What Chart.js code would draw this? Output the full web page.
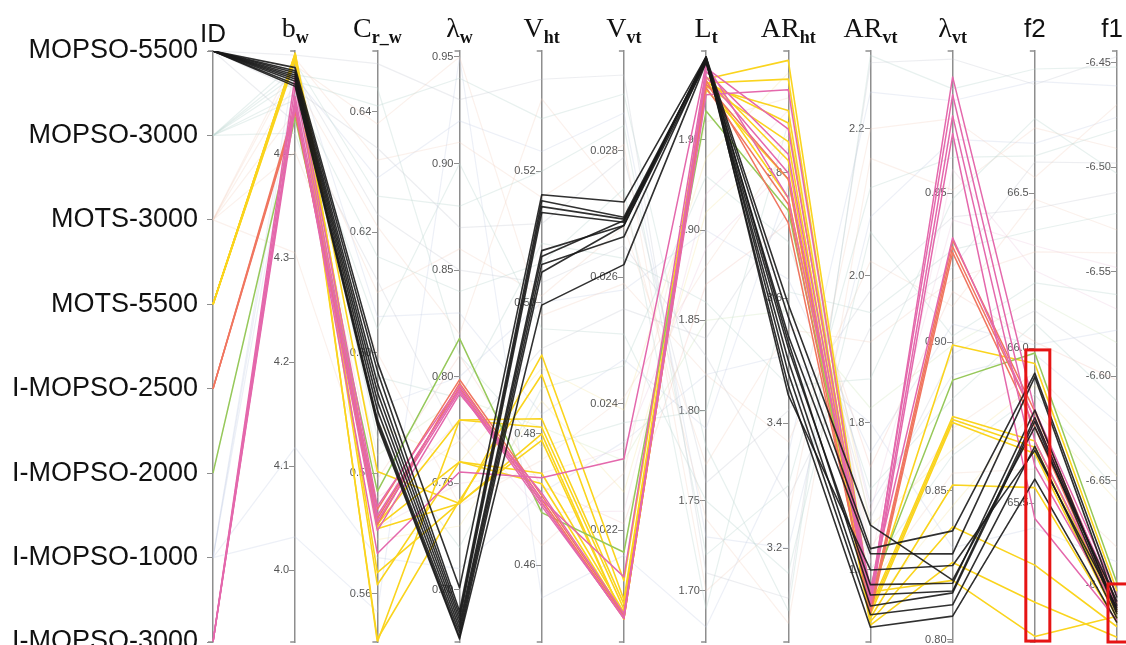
<!DOCTYPE html>
<html>
<head>
<meta charset="utf-8">
<script src="https://cdn.jsdelivr.net/npm/chart.js@4.4.1/dist/chart.umd.min.js"></script>
<style>
  html, body { margin: 0; padding: 0; background: #fff; }
  canvas { display: block; }
</style>
</head>
<body>
<canvas id="pcChart" width="1126" height="645"></canvas>
<script>
// axis order, left to right
const dimKeys = ['ID', 'bw', 'Crw', 'lw', 'Vht', 'Vvt', 'Lt', 'ARht', 'ARvt', 'lvt', 'f2', 'f1'];
// titles: main part + subscript
const titleMain = ['ID', 'b', 'C', 'λ', 'V', 'V', 'L', 'AR', 'AR', 'λ', 'f2', 'f1'];
const titleSub  = ['',   'w', 'r_w', 'w', 'ht', 'vt', 't', 'ht', 'vt', 'vt', '', ''];

const idLabels = ['MOPSO-5500', 'MOPSO-3000', 'MOTS-3000', 'MOTS-5500',
  'I-MOPSO-2500', 'I-MOPSO-2000', 'I-MOPSO-1000', 'I-MOPSO-3000'];

// axis extents (bottom, top)
const axisMin = [0, 3.931, 0.552, 0.6756, 0.4483, 0.02023, 1.6717, 3.05, 1.502, 0.7993, 65.052, -6.7273];
const axisMax = [7, 4.499, 0.6501, 0.9528, 0.5383, 0.02958, 1.9993, 3.995, 2.306, 0.9977, 66.958, -6.4443];

// tick labels
const bwTicks   = [4.0, 4.1, 4.2, 4.3, 4.4];
const crwTicks  = [0.56, 0.58, 0.60, 0.62, 0.64];
const lwTicks   = [0.70, 0.75, 0.80, 0.85, 0.90, 0.95];
const vhtTicks  = [0.46, 0.48, 0.50, 0.52];
const vvtTicks  = [0.022, 0.024, 0.026, 0.028];
const ltTicks   = [1.70, 1.75, 1.80, 1.85, 1.90, 1.95];
const arhtTicks = [3.2, 3.4, 3.6, 3.8];
const arvtTicks = [1.6, 1.8, 2.0, 2.2];
const lvtTicks  = [0.80, 0.85, 0.90, 0.95];
const f2Ticks   = [65.5, 66.0, 66.5];
const f1Ticks   = [-6.70, -6.65, -6.60, -6.55, -6.50, -6.45];
const tickDigits = [0, 1, 2, 2, 2, 3, 2, 1, 1, 2, 1, 2];

// brushed ranges (red boxes)
const f2Brush = [65.055, 65.994];
const f1Brush = [-6.7273, -6.6995];

// runs: bw, Crw, λw, Vht, Vvt, Lt, ARht, ARvt, λvt, f2, f1
const mopso5500Runs = [
  [4.483, 0.5985, 0.701, 0.5164, 0.02719, 1.996, 3.59, 1.661, 0.8201, 65.745, -6.708],
  [4.480, 0.5970, 0.690, 0.5155, 0.02695, 1.995, 3.57, 1.629, 0.8366, 65.919, -6.706],
  [4.478, 0.5950, 0.688, 0.5146, 0.02692, 1.994, 3.54, 1.622, 0.8289, 65.907, -6.710],
  [4.476, 0.5935, 0.686, 0.5137, 0.02687, 1.996, 3.53, 1.566, 0.8164, 65.776, -6.712],
  [4.474, 0.5920, 0.684, 0.5079, 0.02682, 1.993, 3.50, 1.551, 0.8158, 65.764, -6.714],
  [4.472, 0.5905, 0.682, 0.5070, 0.02690, 1.995, 3.48, 1.539, 0.8118, 65.683, -6.716],
  [4.470, 0.5890, 0.680, 0.5058, 0.02664, 1.994, 3.46, 1.522, 0.8080, 65.577, -6.718],
  [4.467, 0.5885, 0.678, 0.5046, 0.02682, 1.996, 3.445, 1.600, 0.8250, 65.670, -6.711],
  [4.465, 0.5880, 0.677, 0.4996, 0.02620, 1.993, 3.52, 1.580, 0.8190, 65.800, -6.713]
];
const mots5500Runs = [
  [4.497, 0.5803, 0.7406, 0.4920, 0.02120, 1.9838, 3.98, 1.560, 0.899, 65.95, -6.703],
  [4.496, 0.5715, 0.7797, 0.4823, 0.02083, 1.9816, 3.95, 1.550, 0.875, 65.70, -6.712],
  [4.495, 0.5712, 0.7601, 0.4724, 0.02065, 1.9795, 3.90, 1.545, 0.874, 65.68, -6.714],
  [4.494, 0.5708, 0.7406, 0.4800, 0.02059, 1.9820, 3.88, 1.540, 0.873, 65.66, -6.716],
  [4.493, 0.5635, 0.7410, 0.4790, 0.02060, 1.9800, 3.85, 1.535, 0.852, 65.55, -6.718],
  [4.492, 0.5615, 0.7601, 0.4740, 0.02070, 1.9850, 3.82, 1.530, 0.838, 65.30, -6.720],
  [4.496, 0.5520, 0.7797, 0.4810, 0.02075, 1.9780, 3.79, 1.525, 0.826, 65.18, -6.725],
  [4.490, 0.5525, 0.7420, 0.4890, 0.02090, 1.9830, 3.76, 1.570, 0.820, 65.07, -6.715]
];
const impso2500Runs = [
  [4.443, 0.5740, 0.7987, 0.4706, 0.02065, 1.981, 3.79, 1.550, 0.9342, 65.795, -6.711],
  [4.440, 0.5725, 0.7950, 0.4695, 0.02060, 1.979, 3.75, 1.540, 0.9300, 65.745, -6.713],
  [4.446, 0.5715, 0.7970, 0.4700, 0.02062, 1.983, 3.72, 1.545, 0.9320, 65.770, -6.709]
];
const impso2000Runs = [
  [4.435, 0.5770, 0.8180, 0.4680, 0.02165, 1.966, 3.74, 1.570, 0.8872, 65.984, -6.699]
];
const impso3000Runs = [
  [4.475, 0.5745, 0.7960, 0.4700, 0.02126, 1.990, 3.87, 1.560, 0.989, 65.80, -6.705],
  [4.465, 0.5730, 0.7942, 0.4695, 0.02060, 1.988, 3.83, 1.555, 0.976, 65.62, -6.712],
  [4.455, 0.5720, 0.7933, 0.4690, 0.02062, 1.985, 3.80, 1.550, 0.970, 65.45, -6.717],
  [4.450, 0.5667, 0.7553, 0.4733, 0.02313, 1.992, 3.76, 1.575, 0.935, 65.77, -6.708],
  [4.445, 0.5705, 0.7920, 0.4710, 0.02068, 1.975, 3.933, 1.565, 0.983, 65.70, -6.710]
];
// runs outside the brushed ranges (faint)
const otherRuns = [
  ['MOPSO-5500', 4.495, 0.648, 0.93, 0.534, 0.0292, 1.71, 3.12, 2.29, 0.995, 66.85, -6.447],
  ['MOPSO-5500', 4.462, 0.634, 0.87, 0.512, 0.0279, 1.76, 3.42, 1.98, 0.942, 66.45, -6.512],
  ['MOPSO-5500', 4.430, 0.612, 0.77, 0.493, 0.0255, 1.84, 3.74, 1.67, 0.896, 66.12, -6.596],
  ['MOPSO-5500', 4.479, 0.623, 0.85, 0.503, 0.0265, 1.83, 3.28, 1.93, 0.925, 66.60, -6.498],
  ['MOPSO-3000', 4.470, 0.641, 0.94, 0.528, 0.0289, 1.78, 3.10, 2.30, 0.985, 66.90, -6.452],
  ['MOPSO-3000', 4.488, 0.626, 0.88, 0.520, 0.0284, 1.72, 3.30, 2.12, 0.962, 66.62, -6.482],
  ['MOPSO-3000', 4.458, 0.616, 0.84, 0.506, 0.0274, 1.69, 3.61, 1.95, 0.931, 66.38, -6.522],
  ['MOPSO-3000', 4.452, 0.604, 0.90, 0.496, 0.0251, 1.75, 3.16, 2.06, 0.902, 66.21, -6.561],
  ['MOPSO-3000', 4.420, 0.596, 0.79, 0.509, 0.0263, 1.86, 3.46, 1.86, 0.948, 66.74, -6.503],
  ['MOPSO-3000', 4.481, 0.586, 0.72, 0.487, 0.0246, 1.93, 3.69, 1.71, 0.881, 66.08, -6.612],
  ['MOPSO-3000', 4.476, 0.644, 0.81, 0.478, 0.0237, 1.80, 3.88, 1.60, 0.862, 65.85, -6.655],
  ['MOTS-3000', 4.492, 0.632, 0.91, 0.516, 0.0281, 1.70, 3.25, 2.20, 0.975, 66.55, -6.470],
  ['MOTS-3000', 4.441, 0.610, 0.86, 0.501, 0.0268, 1.77, 3.55, 1.91, 0.921, 66.31, -6.541],
  ['MOTS-3000', 4.402, 0.600, 0.74, 0.476, 0.0241, 1.88, 3.84, 1.63, 0.871, 65.92, -6.638],
  ['MOTS-3000', 4.468, 0.621, 0.82, 0.531, 0.0272, 1.74, 3.08, 2.16, 0.951, 66.71, -6.491],
  ['MOTS-3000', 4.305, 0.576, 0.77, 0.463, 0.0229, 1.96, 3.92, 1.58, 0.856, 65.61, -6.682],
  ['MOTS-3000', 4.485, 0.638, 0.95, 0.498, 0.0259, 1.82, 3.37, 2.02, 0.912, 66.48, -6.530],
  ['I-MOPSO-1000', 4.032, 0.557, 0.95, 0.455, 0.0216, 1.68, 3.35, 2.25, 0.981, 66.86, -6.461],
  ['I-MOPSO-1000', 4.118, 0.566, 0.71, 0.471, 0.0234, 1.82, 3.51, 1.80, 0.831, 65.42, -6.689],
  ['I-MOPSO-1000', 4.450, 0.591, 0.80, 0.500, 0.0258, 1.90, 3.63, 1.76, 0.906, 66.01, -6.578],
  ['I-MOPSO-1000', 4.474, 0.629, 0.92, 0.523, 0.0286, 1.73, 3.20, 2.08, 0.968, 66.66, -6.476],
  ['I-MOPSO-1000', 4.490, 0.606, 0.83, 0.483, 0.0247, 1.79, 3.78, 1.69, 0.889, 65.98, -6.622],
  ['MOTS-5500', 4.497, 0.588, 0.76, 0.490, 0.0239, 1.94, 3.96, 1.55, 0.845, 65.80, -6.660],
  ['MOTS-5500', 4.493, 0.569, 0.73, 0.485, 0.0226, 1.91, 3.86, 1.66, 0.864, 65.88, -6.648],
  ['I-MOPSO-2500', 4.448, 0.579, 0.81, 0.472, 0.0221, 1.87, 3.72, 1.74, 0.917, 66.02, -6.602],
  ['I-MOPSO-2000', 4.438, 0.583, 0.79, 0.481, 0.0231, 1.85, 3.58, 1.82, 0.899, 66.16, -6.584],
  ['I-MOPSO-3000', 4.460, 0.574, 0.78, 0.468, 0.0223, 1.92, 3.90, 1.61, 0.958, 66.25, -6.568],
  ['I-MOPSO-3000', 4.452, 0.571, 0.75, 0.474, 0.0233, 1.89, 3.81, 1.68, 0.941, 66.33, -6.548]
];

const groupColor = {
  'MOPSO-5500': 'rgba(25, 25, 25, 0.9)',
  'MOTS-5500': 'rgb(250, 212, 30)',
  'I-MOPSO-2500': 'rgb(240, 118, 96)',
  'I-MOPSO-2000': 'rgb(150, 200, 90)',
  'I-MOPSO-3000': 'rgb(228, 104, 172)'
};
const faintColor = {
  'MOPSO-5500': 'rgba(195, 200, 208, 0.3)',
  'MOPSO-3000': 'rgba(190, 214, 210, 0.35)',
  'MOTS-3000': 'rgba(240, 205, 185, 0.28)',
  'MOTS-5500': 'rgba(245, 225, 150, 0.28)',
  'I-MOPSO-2500': 'rgba(240, 190, 180, 0.28)',
  'I-MOPSO-2000': 'rgba(200, 225, 180, 0.28)',
  'I-MOPSO-1000': 'rgba(195, 205, 230, 0.3)',
  'I-MOPSO-3000': 'rgba(235, 195, 220, 0.28)'
};

// every value mapped to 0..1 of its own axis, so one hidden y scale carries the lines
function normRow(id, vals) {
  const out = [1 - idLabels.indexOf(id) / (idLabels.length - 1)];
  vals.forEach((v, i) => {
    out.push((v - axisMin[i + 1]) / (axisMax[i + 1] - axisMin[i + 1]));
  });
  return out;
}

const datasets = [];
function addRuns(id, runs, color, width) {
  runs.forEach(r => {
    datasets.push({
      data: normRow(id, r),
      borderColor: color,
      borderWidth: width,
      pointRadius: 0,
      tension: 0,
      fill: false,
      xAxisID: 'x',
      yAxisID: 'y'
    });
  });
}
// first dataset is drawn on top
addRuns('MOPSO-5500', mopso5500Runs, groupColor['MOPSO-5500'], 1.6);
addRuns('I-MOPSO-3000', impso3000Runs, groupColor['I-MOPSO-3000'], 1.5);
addRuns('I-MOPSO-2500', impso2500Runs, groupColor['I-MOPSO-2500'], 1.5);
addRuns('I-MOPSO-2000', impso2000Runs, groupColor['I-MOPSO-2000'], 1.5);
addRuns('MOTS-5500', mots5500Runs, groupColor['MOTS-5500'], 1.6);
otherRuns.forEach(r => addRuns(r[0], [r.slice(1)], faintColor[r[0]], 1.2));

const tickLists = [null, bwTicks, crwTicks, lwTicks, vhtTicks, vvtTicks, ltTicks,
  arhtTicks, arvtTicks, lvtTicks, f2Ticks, f1Ticks];

const axisColor = '#8e8e8e';
const scales = {
  x: { type: 'category', display: false, offset: false },
  y: { type: 'linear', display: false, min: 0, max: 1 }
};
scales.ax0 = {
  type: 'category',
  axis: 'y',
  labels: idLabels,
  min: 0,
  max: idLabels.length - 1,
  offset: false,
  position: { x: 0 },
  grid: { drawOnChartArea: false, tickLength: 5, color: axisColor, lineWidth: 1 },
  border: { color: axisColor, width: 1.5 },
  ticks: {
    autoSkip: false,
    color: '#111',
    font: { family: 'Liberation Sans, Arial, sans-serif', size: 27 },
    callback: (v, i) => '' + idLabels[i] + '  '
  },
  afterFit: s => { s.paddingTop = 0; s.paddingBottom = 0; }
};
for (let i = 1; i < dimKeys.length; i++) {
  scales['ax' + i] = {
    type: 'linear',
    axis: 'y',
    min: axisMin[i],
    max: axisMax[i],
    position: { x: i },
    afterBuildTicks: s => { s.ticks = tickLists[i].map(v => ({ value: v })); },
    afterFit: s => { s.paddingTop = 0; s.paddingBottom = 0; },
    grid: { drawOnChartArea: false, tickLength: 5, color: axisColor, lineWidth: 1 },
    border: { color: axisColor, width: 1.5 },
    ticks: {
      autoSkip: false,
      color: '#555',
      font: { family: 'Liberation Sans, Arial, sans-serif', size: 11 },
      callback: v => v.toFixed(tickDigits[i]) + '  '
    }
  };
}

const decorPlugin = {
  id: 'decor',
  afterDraw(chart) {
    const ctx = chart.ctx;
    const area = chart.chartArea;
    const xs = chart.scales.x;
    ctx.save();

    // outer end ticks of each axis
    ctx.strokeStyle = axisColor;
    ctx.lineWidth = 1.5;
    for (let i = 0; i < dimKeys.length; i++) {
      const px = xs.getPixelForValue(i);
      ctx.beginPath();
      ctx.moveTo(px - 5, area.top); ctx.lineTo(px, area.top);
      ctx.moveTo(px - 5, area.bottom); ctx.lineTo(px, area.bottom);
      ctx.stroke();
    }

    // axis titles with subscripts
    ctx.fillStyle = '#111';
    ctx.textBaseline = 'alphabetic';
    ctx.textAlign = 'left';
    for (let i = 0; i < dimKeys.length; i++) {
      const px = xs.getPixelForValue(i);
      const serif = titleSub[i] !== '';
      const mainFont = serif ? '28px "Liberation Serif", "DejaVu Serif", serif'
                             : '26px "Liberation Sans", Arial, sans-serif';
      const subFont = 'bold 18px "Liberation Serif", "DejaVu Serif", serif';
      ctx.font = mainFont;
      const wMain = ctx.measureText(titleMain[i]).width;
      ctx.font = subFont;
      const wSub = serif ? ctx.measureText(titleSub[i]).width : 0;
      let x0 = px - (wMain + wSub) / 2;
      if (x0 + wMain + wSub > chart.width - 3) x0 = chart.width - 3 - wMain - wSub;
      const base = i === 0 ? 42 : 37;
      ctx.font = mainFont;
      ctx.fillText(titleMain[i], x0, base);
      if (serif) {
        ctx.font = subFont;
        ctx.fillText(titleSub[i], x0 + wMain, base + 6);
      }
    }

    // brushed ranges
    ctx.strokeStyle = 'rgb(230, 20, 20)';
    ctx.lineWidth = 3;
    [[10, f2Brush], [11, f1Brush]].forEach(([i, br]) => {
      const sc = chart.scales['ax' + i];
      const px = xs.getPixelForValue(i);
      const yTop = sc.getPixelForValue(br[1]);
      const yBot = sc.getPixelForValue(br[0]);
      ctx.strokeRect(px - 9, yTop, 24, yBot - yTop);
    });
    ctx.restore();
  }
};

new Chart(document.getElementById('pcChart'), {
  type: 'line',
  data: { labels: dimKeys, datasets: datasets },
  options: {
    responsive: false,
    animation: false,
    layout: { padding: { left: 213, right: 9, top: 51, bottom: 3 } },
    elements: { line: { borderJoinStyle: 'round' } },
    plugins: { legend: { display: false }, tooltip: { enabled: false } },
    scales: scales
  },
  plugins: [decorPlugin]
});
</script>
</body>
</html>
